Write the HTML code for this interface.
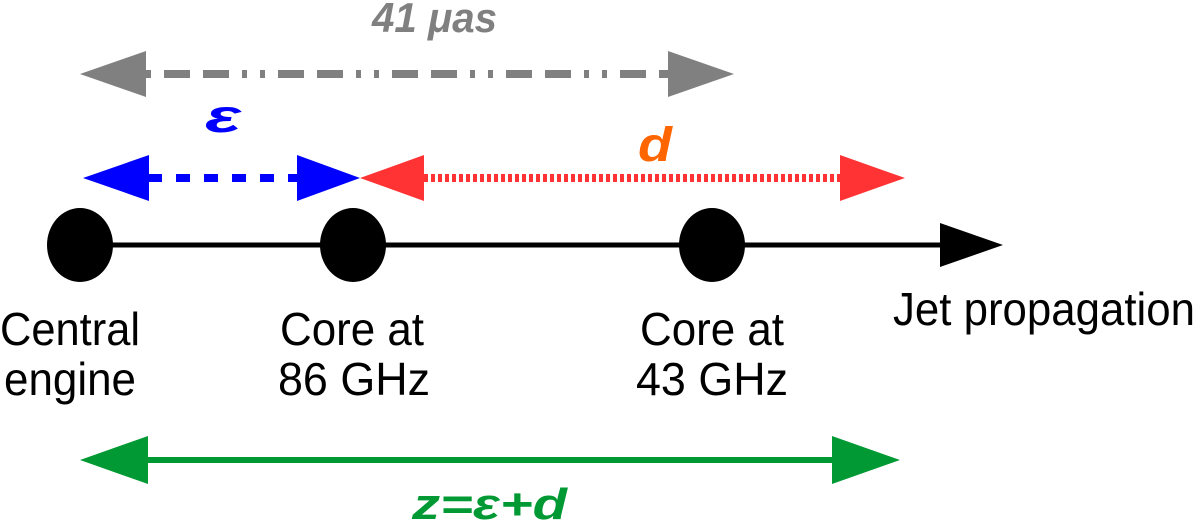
<!DOCTYPE html>
<html><head><meta charset="utf-8"><style>
html,body{margin:0;padding:0;background:#fff;}
svg{display:block;}
text{font-family:"Liberation Sans",sans-serif;}
</style></head><body>
<svg width="1200" height="527" viewBox="0 0 1200 527">
<text x="372" y="32" textLength="125" lengthAdjust="spacingAndGlyphs" font-size="42" font-weight="bold" font-style="italic" fill="#808080">41 μas</text>
<line x1="146" y1="74" x2="668" y2="74" stroke="#808080" stroke-width="8" stroke-dasharray="5 13 26 13 26 13 5 13"/>
<polygon points="80,74 146,51 146,97" fill="#808080"/>
<polygon points="734,74 668,51 668,97" fill="#808080"/>
<text x="205" y="132" textLength="36" lengthAdjust="spacingAndGlyphs" font-size="46" font-weight="bold" font-style="italic" fill="#0000ff">ε</text>
<text x="638" y="161" textLength="34" lengthAdjust="spacingAndGlyphs" font-size="48" font-weight="bold" font-style="italic" fill="#ff6600">d</text>
<line x1="148" y1="178" x2="297" y2="178" stroke="#0000ff" stroke-width="8" stroke-dasharray="14 14"/>
<polygon points="83,178 149,155 149,201" fill="#0000ff"/>
<polygon points="360,178 297,155 297,201" fill="#0000ff"/>
<line x1="424" y1="178" x2="840" y2="178" stroke="#ff3333" stroke-width="8" stroke-dasharray="4 3"/>
<polygon points="360,178 424,155 424,201" fill="#ff3333"/>
<polygon points="905,178 840,155 840,201" fill="#ff3333"/>
<line x1="80" y1="245" x2="950" y2="245" stroke="#000" stroke-width="5"/>
<polygon points="1003,245 940,223 940,267" fill="#000"/>
<ellipse cx="80" cy="245" rx="33" ry="37" fill="#000"/>
<ellipse cx="353" cy="245" rx="33" ry="37" fill="#000"/>
<ellipse cx="712" cy="245" rx="33" ry="37" fill="#000"/>
<g font-size="46" fill="#000" lengthAdjust="spacingAndGlyphs">
<text x="0" y="345" textLength="140" lengthAdjust="spacingAndGlyphs">Central</text>
<text x="4" y="395" textLength="132" lengthAdjust="spacingAndGlyphs">engine</text>
<text x="280" y="345" textLength="144" lengthAdjust="spacingAndGlyphs">Core at</text>
<text x="278" y="395" textLength="152" lengthAdjust="spacingAndGlyphs">86 GHz</text>
<text x="640" y="345" textLength="144" lengthAdjust="spacingAndGlyphs">Core at</text>
<text x="636" y="395" textLength="152" lengthAdjust="spacingAndGlyphs">43 GHz</text>
<text x="893" y="325" textLength="302" lengthAdjust="spacingAndGlyphs">Jet propagation</text>
</g>
<line x1="146" y1="460" x2="834" y2="460" stroke="#009933" stroke-width="6"/>
<polygon points="80,460 148,436 148,484" fill="#009933"/>
<polygon points="900,460 832,436 832,484" fill="#009933"/>
<text x="412" y="519" textLength="155" lengthAdjust="spacingAndGlyphs" font-size="44" font-weight="bold" font-style="italic" fill="#009933">z=ε+d</text>
</svg>
</body></html>
